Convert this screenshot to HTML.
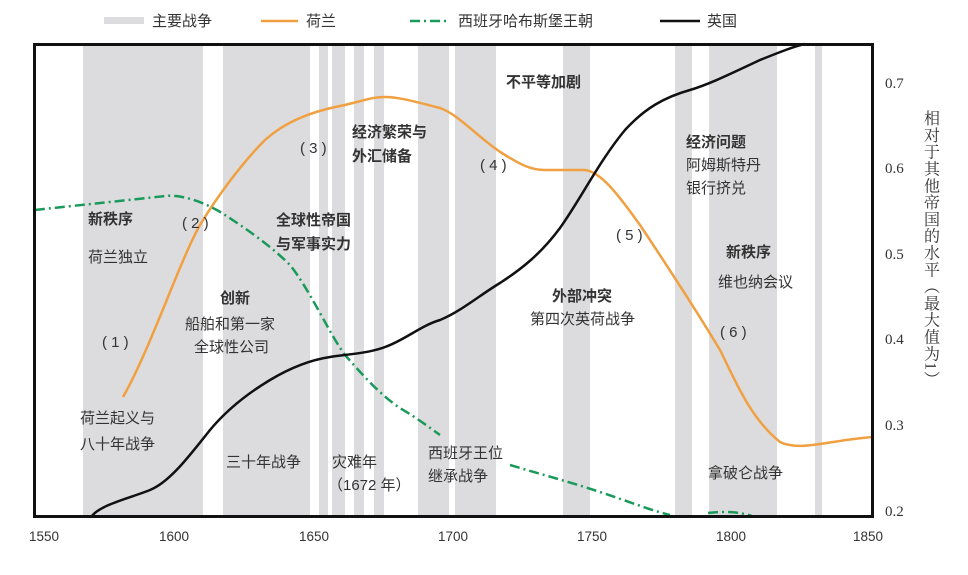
<!DOCTYPE html>
<html><head><meta charset="utf-8"><style>
body{margin:0;background:#fff;}
svg text{font-family:"Liberation Sans","Noto Sans CJK SC",sans-serif;fill:#333;}
svg text.serif{font-family:"Liberation Serif","Noto Serif CJK SC",serif;}
</style></head><body>
<svg width="968" height="570" xmlns="http://www.w3.org/2000/svg">
<g fill="#dcdcde">
<rect x="83" y="45" width="120" height="471"/>
<rect x="223" y="45" width="87" height="471"/>
<rect x="319" y="45" width="9" height="471"/>
<rect x="332" y="45" width="13" height="471"/>
<rect x="354" y="45" width="10" height="471"/>
<rect x="374" y="45" width="10" height="471"/>
<rect x="418" y="45" width="31" height="471"/>
<rect x="455" y="45" width="41" height="471"/>
<rect x="563" y="45" width="27" height="471"/>
<rect x="675" y="45" width="17" height="471"/>
<rect x="709" y="45" width="68" height="471"/>
<rect x="815" y="45" width="7" height="471"/>
</g>
<rect x="104" y="17" width="40" height="7" fill="#dcdcde"/>
<text x="152" y="26" font-size="15">主要战争</text>
<line x1="261" y1="21" x2="298" y2="21" stroke="#f0a040" stroke-width="2.5"/>
<text x="306" y="26" font-size="15">荷兰</text>
<line x1="410" y1="21" x2="450" y2="21" stroke="#1a9a5a" stroke-width="2.5" stroke-dasharray="10,4,2,4"/>
<text x="458" y="26" font-size="15">西班牙哈布斯堡王朝</text>
<line x1="660" y1="21" x2="700" y2="21" stroke="#111" stroke-width="2.5"/>
<text x="707" y="26" font-size="15">英国</text>
<path fill="none" stroke="#f0a040" stroke-width="2.5" d="M123,397 C150,350 180,260 200,225 C215,200 240,165 265,140 C285,122 310,112 340,106 C360,102 370,97 385,97 C400,97 420,103 440,108 C460,115 480,140 505,155 C520,164 530,170 545,170 L585,170 C600,172 615,190 640,225 C660,255 690,300 720,350 C735,380 750,418 780,442 C800,452 830,440 873,437"/>
<path fill="none" stroke="#1a9a5a" stroke-width="2.5" stroke-dasharray="10,4,2,4" d="M35,210 C80,205 130,200 165,196 C185,194 210,205 225,215 C245,228 270,245 290,265 C310,290 330,335 345,355 C360,372 380,395 400,408 C420,420 430,428 440,435"/>
<path fill="none" stroke="#1a9a5a" stroke-width="2.5" stroke-dasharray="10,4,2,4" d="M510,465 C540,474 570,482 600,492 C630,502 650,510 670,515"/>
<path fill="none" stroke="#1a9a5a" stroke-width="2.5" stroke-dasharray="10,4,2,4" d="M708,513 C725,511 740,512 752,516"/>
<path fill="none" stroke="#111" stroke-width="2.5" d="M92,516 C100,505 130,498 150,490 C170,482 190,455 210,430 C225,412 245,395 270,380 C290,368 310,360 330,357 C350,354 370,353 385,347 C405,340 420,326 440,320 C460,312 480,295 500,283 C520,270 540,255 560,228 C580,200 600,160 625,130 C645,108 665,97 690,90 C710,84 730,74 760,60 C780,52 795,46 805,44"/>
<rect x="34.5" y="44.5" width="838" height="472" fill="none" stroke="#111" stroke-width="3"/>
<g font-size="13.5" text-anchor="middle">
<text x="44" y="541">1550</text><text x="174" y="541">1600</text><text x="314" y="541">1650</text>
<text x="453" y="541">1700</text><text x="592" y="541">1750</text><text x="731" y="541">1800</text><text x="868" y="541">1850</text>
</g>
<g font-size="15">
<text class="serif" x="885" y="88">0.7</text><text class="serif" x="885" y="173">0.6</text><text class="serif" x="885" y="259">0.5</text>
<text class="serif" x="885" y="344">0.4</text><text class="serif" x="885" y="430">0.3</text><text class="serif" x="885" y="516">0.2</text>
</g>
<text class="serif" x="930" y="110" font-size="16" letter-spacing="0.8" style="writing-mode:vertical-rl">相对于其他帝国的水平（最大值为1）</text>
<g font-size="15">
<text x="88" y="224" font-weight="bold">新秩序</text>
<text x="88" y="262">荷兰独立</text>
<text x="102" y="347">( 1 )</text>
<text x="80" y="423">荷兰起义与</text>
<text x="80" y="449">八十年战争</text>
<text x="182" y="228">( 2 )</text>
<text x="220" y="303" font-weight="bold">创新</text>
<text x="185" y="329">船舶和第一家</text>
<text x="194" y="352">全球性公司</text>
<text x="226" y="467">三十年战争</text>
<text x="276" y="225" font-weight="bold">全球性帝国</text>
<text x="276" y="249" font-weight="bold">与军事实力</text>
<text x="300" y="153">( 3 )</text>
<text x="352" y="137" font-weight="bold">经济繁荣与</text>
<text x="352" y="161" font-weight="bold">外汇储备</text>
<text x="332" y="467">灾难年</text>
<text x="328" y="490">（1672 年）</text>
<text x="428" y="458">西班牙王位</text>
<text x="428" y="481">继承战争</text>
<text x="506" y="87" font-weight="bold">不平等加剧</text>
<text x="480" y="170">( 4 )</text>
<text x="552" y="301" font-weight="bold">外部冲突</text>
<text x="530" y="324">第四次英荷战争</text>
<text x="616" y="240">( 5 )</text>
<text x="686" y="147" font-weight="bold">经济问题</text>
<text x="686" y="170">阿姆斯特丹</text>
<text x="686" y="193">银行挤兑</text>
<text x="726" y="257" font-weight="bold">新秩序</text>
<text x="718" y="287">维也纳会议</text>
<text x="720" y="337">( 6 )</text>
<text x="708" y="478">拿破仑战争</text>
</g>
</svg>
</body></html>
